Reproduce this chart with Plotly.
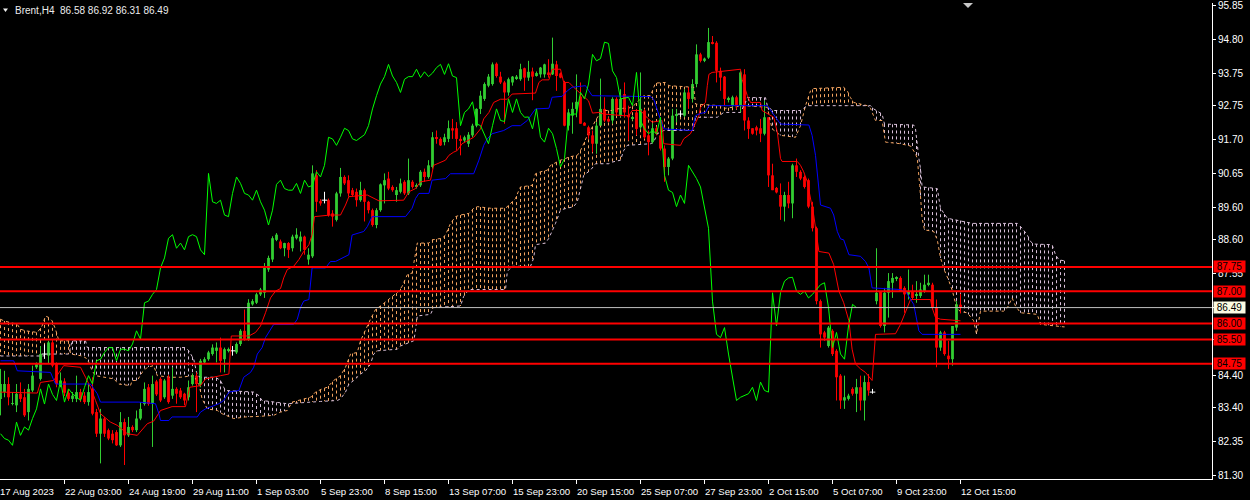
import numpy as np
import plotly.graph_objects as go

# ---------------- data ----------------
symbol = "Brent,H4"

opens = [83.66, 83.87, 84.12, 83.51, 83.46, 83.82, 83.71, 83.25, 83.92, 84.64,
         84.28, 85.05, 85.00, 85.41, 84.74, 84.12, 84.20, 83.85, 83.66, 83.66,
         83.87, 83.76, 83.56, 83.97, 83.25, 82.58, 83.05, 82.69, 82.58, 82.63,
         82.22, 82.94, 82.53, 82.79, 82.69, 83.05, 83.50, 84.02, 83.50, 84.20,
         84.28, 83.71, 84.33, 83.76, 83.97, 83.92, 83.82, 83.71, 84.12, 84.38,
         84.12, 84.79, 84.89, 85.05, 85.15, 85.25, 84.89, 85.15, 85.15, 85.10,
         85.36, 85.77, 85.51, 86.59, 86.64, 86.90, 86.95, 87.67, 87.98, 88.59,
         88.54, 88.33, 88.49, 88.33, 88.64, 88.54, 88.69, 87.98, 88.08, 90.59,
         89.79, 89.82, 89.82, 89.41, 89.21, 90.03, 90.54, 90.44, 90.13, 90.08,
         89.82, 90.13, 89.77, 89.51, 89.05, 89.51, 90.28, 90.49, 90.23, 89.98,
         90.08, 90.39, 90.03, 90.39, 90.23, 90.28, 90.70, 90.54, 90.85, 91.77,
         91.72, 91.62, 91.72, 92.05, 92.05, 91.72, 91.67, 91.57, 91.83, 92.13,
         92.65, 92.96, 93.37, 93.42, 94.05, 93.65, 93.47, 93.16, 93.47, 93.59,
         93.57, 93.91, 93.62, 93.81, 93.67, 93.72, 93.72, 93.78, 93.72, 94.03,
         93.75, 93.47, 92.13, 92.44, 92.65, 93.03, 92.22, 92.08, 91.83, 91.57,
         92.13, 92.65, 92.34, 92.29, 92.96, 92.44, 93.11, 92.46, 92.36, 92.54,
         92.08, 92.60, 91.83, 91.62, 92.05, 91.83, 91.42, 90.85, 91.11, 92.44,
         92.49, 92.44, 93.16, 92.96, 93.42, 94.34, 94.14, 94.24, 94.72, 94.70,
         93.83, 93.65, 92.94, 92.75, 93.01, 92.75, 93.72, 92.29, 92.05, 92.08,
         92.05, 91.88, 92.39, 90.59, 90.20, 89.98, 89.62, 89.98, 89.72, 90.90,
         90.70, 90.54, 90.44, 89.62, 88.95, 86.69, 85.72, 85.30, 85.77, 85.15,
         84.38, 83.61, 83.66, 83.97, 83.82, 84.02, 83.61, 84.18, 83.87, 86.69,
         87.00, 85.92, 86.95, 87.26, 87.39, 87.41, 87.10, 86.90, 87.00, 86.85,
         86.85, 87.00, 87.20, 87.20, 86.49, 85.25, 85.72, 85.00, 84.89, 85.87,
         86.58]
highs = [84.59, 84.53, 84.33, 83.87, 84.12, 84.17, 83.97, 84.12, 84.69, 84.79,
         85.30, 85.35, 85.46, 85.51, 84.79, 84.48, 84.30, 83.95, 83.87, 84.38,
         83.97, 83.87, 84.12, 84.33, 83.35, 83.35, 83.10, 82.74, 82.69, 82.69,
         83.25, 83.05, 83.10, 82.84, 83.30, 83.56, 84.17, 84.12, 84.38, 84.25,
         84.33, 84.28, 84.40, 84.64, 84.02, 84.00, 83.85, 84.23, 84.45, 84.48,
         84.90, 84.95, 85.15, 85.35, 85.41, 85.56, 85.25, 85.25, 85.30, 85.41,
         85.82, 86.43, 86.75, 86.75, 86.95, 87.10, 87.87, 88.10, 88.70, 88.80,
         88.60, 88.50, 88.52, 88.75, 88.95, 88.85, 88.72, 88.33, 90.90, 90.75,
         89.85, 90.08, 89.87, 89.51, 90.08, 90.82, 90.59, 90.59, 90.20, 90.18,
         90.39, 90.18, 89.80, 89.56, 89.57, 90.34, 90.65, 90.70, 90.28, 90.23,
         90.49, 90.44, 91.11, 90.44, 90.34, 90.75, 90.80, 91.06, 91.93, 91.98,
         91.77, 91.88, 92.29, 92.34, 92.24, 91.83, 91.82, 91.93, 92.19, 92.67,
         93.21, 93.47, 93.73, 94.09, 94.09, 93.80, 93.52, 93.62, 93.67, 93.70,
         94.05, 93.93, 94.14, 93.93, 93.81, 93.95, 94.05, 94.19, 94.86, 94.14,
         93.78, 93.52, 92.65, 92.85, 93.72, 93.47, 92.24, 92.13, 91.98, 92.24,
         93.59, 93.01, 92.39, 93.01, 93.01, 93.26, 93.47, 92.75, 92.44, 92.65,
         93.78, 92.65, 91.98, 92.19, 92.10, 92.39, 91.52, 91.16, 92.65, 92.65,
         92.60, 93.26, 93.32, 93.57, 94.65, 94.39, 94.24, 95.16, 94.91, 94.75,
         93.93, 93.67, 93.03, 93.06, 93.06, 93.83, 93.88, 92.39, 92.05, 92.13,
         92.34, 92.90, 92.39, 90.95, 90.23, 90.34, 90.08, 90.39, 90.95, 91.11,
         90.75, 90.59, 90.49, 89.77, 89.00, 86.74, 85.77, 85.92, 85.82, 85.20,
         84.43, 84.38, 83.82, 84.02, 84.28, 84.38, 84.38, 84.43, 83.97, 88.33,
         87.00, 87.10, 87.56, 87.56, 87.46, 87.46, 87.15, 87.67, 87.20, 87.31,
         87.26, 87.51, 87.51, 87.26, 86.74, 85.77, 85.77, 85.46, 85.92, 86.69,
         86.92]
lows = [83.15, 83.71, 83.46, 83.46, 83.25, 83.56, 83.10, 82.99, 83.87, 84.59,
        84.23, 84.90, 84.74, 84.64, 84.02, 84.02, 83.75, 83.60, 83.56, 83.56,
        83.56, 83.50, 83.45, 83.15, 82.48, 81.66, 82.48, 82.38, 82.28, 82.20,
        82.17, 81.61, 82.48, 82.63, 82.63, 83.00, 83.45, 83.45, 82.17, 83.75,
        83.56, 83.66, 83.51, 83.66, 83.51, 83.66, 83.46, 83.61, 84.07, 83.25,
        84.02, 84.74, 84.84, 85.00, 84.79, 84.48, 84.48, 85.10, 85.00, 85.05,
        85.30, 85.46, 85.46, 86.55, 86.60, 86.85, 86.79, 87.60, 87.90, 88.55,
        88.30, 88.08, 88.03, 88.23, 88.60, 88.23, 88.13, 87.82, 88.03, 89.46,
        89.65, 89.72, 89.31, 89.00, 89.16, 89.93, 90.29, 89.93, 89.93, 89.62,
        89.77, 89.16, 89.41, 89.00, 88.95, 89.46, 89.72, 90.13, 90.08, 89.77,
        90.03, 89.98, 89.98, 90.18, 90.18, 90.23, 90.39, 90.49, 90.80, 91.57,
        91.50, 91.52, 91.62, 91.72, 91.36, 91.21, 91.62, 91.47, 91.77, 92.08,
        92.49, 92.90, 93.32, 93.37, 93.62, 93.42, 92.19, 93.06, 93.37, 93.55,
        93.52, 93.21, 93.52, 92.92, 93.65, 93.62, 93.62, 93.62, 93.70, 93.21,
        93.60, 92.11, 91.98, 91.88, 92.39, 92.19, 92.13, 91.72, 91.31, 91.26,
        92.13, 92.24, 92.24, 92.19, 92.44, 92.39, 92.39, 91.67, 92.29, 91.83,
        92.03, 91.72, 91.21, 91.57, 91.83, 91.36, 90.39, 90.59, 91.06, 92.24,
        92.40, 92.39, 92.65, 92.85, 93.32, 94.09, 94.10, 94.20, 94.65, 93.47,
        93.21, 92.75, 92.85, 92.70, 92.65, 92.54, 91.98, 91.72, 91.85, 91.83,
        91.62, 91.83, 90.23, 90.13, 90.03, 89.21, 89.16, 89.57, 89.26, 90.54,
        90.44, 90.18, 89.57, 88.85, 86.59, 85.25, 85.46, 85.25, 84.99, 83.61,
        83.35, 83.35, 83.61, 83.76, 83.25, 83.30, 82.99, 83.76, 83.82, 86.59,
        85.87, 85.72, 86.18, 86.79, 87.31, 87.00, 86.33, 86.74, 86.74, 86.64,
        86.79, 86.95, 87.15, 86.43, 84.64, 85.15, 85.00, 84.59, 84.69, 85.77,
        86.31]
closes = [84.12, 84.12, 83.71, 83.53, 83.82, 83.66, 83.15, 83.97, 84.38, 84.74,
          85.05, 85.05, 85.41, 84.69, 84.12, 84.23, 83.85, 83.66, 83.76, 83.87,
          83.66, 83.56, 83.87, 83.20, 82.58, 83.05, 82.58, 82.43, 82.38, 82.22,
          82.94, 82.53, 82.79, 82.69, 83.05, 83.35, 83.97, 83.50, 84.12, 83.80,
          83.61, 84.23, 83.56, 83.97, 83.82, 83.71, 83.61, 84.02, 84.38, 84.12,
          84.84, 84.89, 85.10, 85.25, 85.25, 84.84, 85.20, 85.20, 85.15, 85.36,
          85.77, 85.51, 86.64, 86.69, 86.90, 87.05, 87.72, 88.03, 88.64, 88.75,
          88.33, 88.49, 88.28, 88.69, 88.75, 88.69, 88.28, 88.13, 90.65, 89.77,
          89.72, 89.82, 89.36, 89.31, 90.03, 90.54, 90.34, 90.03, 89.98, 89.82,
          90.13, 89.77, 89.51, 89.05, 89.51, 90.31, 90.44, 90.18, 90.13, 90.13,
          90.34, 90.03, 90.44, 90.23, 90.28, 90.70, 90.54, 90.90, 91.77, 91.72,
          91.52, 91.77, 92.05, 91.98, 91.72, 91.67, 91.77, 91.85, 92.13, 92.65,
          93.06, 93.42, 93.65, 94.03, 93.67, 93.47, 93.16, 93.57, 93.65, 93.65,
          93.88, 93.62, 93.80, 93.65, 93.76, 93.93, 94.03, 93.72, 94.05, 93.67,
          93.62, 92.13, 92.54, 92.65, 92.87, 92.19, 92.13, 91.83, 91.57, 92.13,
          92.65, 92.29, 92.26, 92.96, 92.54, 92.96, 92.54, 92.39, 92.40, 92.03,
          92.65, 91.77, 91.62, 92.05, 91.88, 91.42, 90.85, 91.11, 92.44, 92.49,
          92.49, 93.16, 92.96, 93.42, 94.34, 94.14, 94.21, 94.72, 94.68, 93.83,
          93.62, 92.96, 92.99, 93.01, 92.75, 93.78, 92.29, 92.03, 91.88, 91.98,
          91.88, 92.39, 90.59, 90.13, 90.06, 89.62, 89.98, 89.72, 90.90, 90.70,
          90.49, 90.23, 89.62, 88.95, 86.69, 85.66, 85.56, 85.87, 85.05, 84.33,
          83.61, 83.71, 83.76, 83.82, 84.02, 83.61, 84.18, 83.92, 83.87, 86.95,
          85.92, 86.95, 87.31, 87.41, 87.43, 87.00, 86.90, 87.00, 86.79, 86.90,
          87.05, 87.20, 87.26, 86.49, 85.25, 85.72, 85.05, 84.89, 85.92, 86.59,
          86.49]

# Ichimoku lines, read as (bar, price) break points
tenkan_x = [0, 9.2, 10, 13.3, 15.8, 20, 21.25, 22.5, 23.75, 25, 27.5, 29.2, 31.7, 34.2, 36.7, 38.3, 40,
            42.9, 46.25, 47.3, 50, 51.25, 55, 57.1, 57.7, 62.1, 63.75, 65, 66.25, 67.5, 68.75, 70, 70.8,
            71.7, 73.3, 74.6, 75.8, 77.1, 77.9, 78.5, 82.5, 85, 86.25, 87.1, 91.7, 93.3, 94.6, 100.8,
            102.1, 103.75, 105, 107.5, 108.3, 111.25, 112.1, 113.3, 114.2, 115.4, 116.7, 118.3, 120,
            120.8, 122.1, 123.3, 125, 126.7, 127.9, 133.75, 134.6, 135.4, 137.1, 137.9, 140, 140.8,
            142.1, 143.3, 147, 148, 149.6, 150.8, 155.8, 157.1, 157.9, 160, 161.7, 162.9, 165.4, 165.8,
            170, 170.8, 172.5, 174.6, 175, 176.25, 176.7, 177.1, 177.9, 185, 185.4, 186.7, 187.5, 190,
            190.4, 193.3, 194.2, 195, 195.4, 199.2, 200, 200.8, 201.7, 203.3, 204.6, 207.1, 208.3,
            209.6, 210.8, 212.1, 212.9, 213.75, 215, 216.25, 217.9, 218.3, 218.75, 223.75, 225, 226.7,
            227.5, 232.5, 232.9, 233.75, 235, 240]
tenkan_y = [83.87, 83.84, 84.17, 84.23, 84.69, 84.64, 84.33, 84.02, 83.61, 83.20, 82.94, 82.84, 82.58,
            82.53, 82.89, 82.97, 83.30, 83.42, 83.42, 84.02, 84.07, 84.28, 84.38, 84.43, 85.61, 85.61,
            85.72, 85.92, 86.33, 86.79, 87.00, 87.08, 87.41, 87.67, 87.77, 87.98, 88.23, 88.44, 88.75,
            89.31, 89.36, 89.36, 89.67, 89.93, 89.98, 89.87, 89.80, 89.82, 90.08, 90.18, 90.39, 90.44,
            90.90, 91.06, 91.21, 91.31, 91.36, 91.57, 91.67, 91.77, 92.03, 92.34, 92.54, 92.85, 92.95,
            92.95, 93.11, 93.14, 93.47, 93.55, 93.55, 93.88, 93.88, 93.47, 93.47, 93.32, 92.90, 92.52,
            92.54, 92.49, 92.44, 92.44, 92.60, 92.60, 92.37, 92.24, 92.29, 91.57, 91.52, 91.72, 91.88,
            92.44, 92.70, 92.85, 93.37, 93.72, 93.78, 93.88, 93.57, 93.06, 92.85, 92.85, 92.60, 92.39,
            91.93, 91.11, 91.02, 91.02, 90.90, 90.70, 90.39, 89.36, 88.23, 88.18, 87.82, 87.00, 86.64,
            86.08, 85.20, 84.74, 84.59, 84.48, 84.23, 85.05, 85.66, 85.68, 85.97, 86.49, 86.74, 86.74,
            86.49, 86.18, 86.13, 86.08]

kijun_x = [0, 3.3, 4.2, 12.5, 13.75, 22.5, 24.2, 25, 34.6, 38.75, 39.6, 40, 42.1, 42.9, 49.2, 50,
           51.25, 54.6, 55.8, 57.1, 59.6, 60.8, 62.5, 63.3, 64.2, 65.4, 66.25, 67.5, 68.3, 73.3, 74.2,
           75, 75.8, 77.1, 77.5, 77.9, 81.25, 82.5, 83.75, 87.1, 87.9, 89.2, 90.8, 91.7, 92.9, 101.25,
           102.9, 103.75, 104.6, 107.1, 107.9, 111.25, 112.5, 118.3, 119.6, 120.8, 121.7, 122.9,
           125.8, 127.9, 130, 131.7, 133.75, 137.1, 137.9, 140.4, 141.7, 142.9, 146.25, 147.1, 147.9,
           162.5, 163.3, 165.8, 172.9, 173.75, 175, 176.25, 177.1, 191.7, 192.9, 195, 202.1, 202.9,
           203.75, 204.6, 205, 207.5, 208.3, 209.2, 210, 210.8, 211.7, 212.1, 215, 216.25, 217.1,
           217.9, 225, 226.25, 228.3, 229.6, 230.4, 240]
kijun_y = [84.84, 84.84, 84.53, 84.48, 84.12, 84.12, 83.82, 83.56, 83.56, 83.51, 83.20, 82.99, 82.99,
           83.10, 83.10, 83.25, 83.35, 83.51, 83.61, 83.87, 83.92, 84.33, 84.48, 84.64, 85.05, 85.25,
           85.56, 85.82, 85.97, 85.97, 86.13, 86.49, 86.69, 86.74, 87.31, 87.72, 87.72, 87.92, 87.92,
           88.13, 88.74, 88.80, 88.85, 89.00, 89.31, 89.31, 89.57, 89.87, 90.03, 90.03, 90.44, 90.49,
           90.64, 90.64, 91.06, 91.52, 91.72, 91.88, 91.98, 92.13, 92.13, 92.29, 92.65, 92.67, 93.01,
           93.04, 93.21, 93.32, 93.37, 93.21, 93.06, 93.03, 92.95, 92.03, 91.98, 92.44, 92.51, 92.54,
           92.75, 92.75, 92.54, 92.18, 92.15, 91.83, 91.21, 90.28, 89.67, 89.57, 89.36, 88.85, 88.62,
           88.59, 88.23, 88.13, 88.08, 87.92, 87.72, 87.10, 87.05, 87.00, 86.59, 85.77, 85.66, 85.66]

span_a_x = [0, 0.8, 4.2, 5, 6.25, 9.2, 10.4, 11.25, 12.1, 12.9, 13.75, 14.6, 17.1, 17.5, 20, 21.25,
            22.1, 22.9, 23.75, 26.7, 28.3, 29.6, 32.5, 32.9, 34.2, 35.4, 36.7, 38.3, 39.2, 42.5, 45,
            48.3, 49.6, 50.4, 51.7, 54.2, 55.4, 58.3, 61.25, 65, 68.3, 70, 71.7, 72.9, 74.6, 75.8,
            77.5, 78.75, 80.4, 81.7, 83.3, 85, 86.25, 87.5, 89.2, 90, 91.25, 92.5, 93.75, 95, 97.5,
            99.6, 100.4, 101.7, 102.9, 103.75, 104.2, 107.1, 107.9, 110.4, 111.25, 112.5, 113.75,
            115, 117.1, 118.3, 119.2, 122.5, 126.25, 127.1, 127.9, 128.75, 129.6, 130, 132.9, 133.3,
            133.75, 135, 136.7, 137.5, 138.3, 140, 141.25, 142.1, 144.2, 145, 145.8, 146.7, 147.9,
            148.75, 150, 151.25, 152.9, 154.2, 155.8, 156.7, 158.3, 160, 160.8, 162.5, 163.75, 166.25,
            167.1, 173.3, 173.75, 180, 181.25, 185.8, 191.7, 192.9, 195, 198.75, 200, 201.25, 202.5,
            203.3, 210.8, 211.7, 212.5, 213.3, 216.7, 217.5, 218.75, 220.4, 221.25, 225, 227.5, 228.75,
            229.2, 229.8, 230.4, 231, 233.3, 234.2, 235, 236, 237, 238, 239, 240, 241.7, 243.3, 244,
            245, 250.8, 251.7, 252.9, 253.75, 255, 259.2, 260, 266]
span_a_y = [86.13, 86.08, 85.97, 85.82, 85.77, 85.72, 85.92, 86.23, 86.18, 86.08, 85.82, 85.46, 85.46,
            85.05, 85.00, 84.94, 84.79, 84.53, 84.38, 84.33, 84.28, 84.12, 84.07, 84.23, 84.23, 84.48,
            84.64, 84.69, 84.38, 84.33, 84.33, 84.38, 84.12, 83.66, 83.35, 83.30, 83.20, 83.05, 83.10,
            83.12, 83.15, 83.25, 83.30, 83.56, 83.61, 83.66, 83.71, 83.87, 83.97, 84.02, 84.23, 84.38,
            84.64, 85.05, 85.10, 85.46, 85.82, 86.13, 86.43, 86.54, 86.79, 87.00, 87.15, 87.51, 87.56,
            88.23, 88.49, 88.49, 88.59, 88.64, 88.74, 89.10, 89.31, 89.36, 89.41, 89.57, 89.62, 89.57,
            89.57, 89.67, 89.77, 89.87, 90.13, 90.23, 90.28, 90.44, 90.64, 90.70, 90.75, 90.90, 90.95,
            91.06, 91.11, 91.16, 91.21, 91.36, 91.57, 91.83, 92.08, 92.29, 92.54, 92.60, 92.60, 92.65,
            92.67, 92.65, 92.75, 92.95, 93.06, 93.06, 93.45, 93.47, 93.37, 93.32, 92.80, 92.75, 92.67,
            92.75, 92.70, 92.03, 91.83, 91.77, 92.13, 92.75, 93.21, 93.28, 93.32, 93.21, 93.00, 92.85,
            92.75, 92.67, 92.29, 92.29, 91.62, 91.57, 91.50, 91.26, 91.11, 90.28, 89.26, 88.90, 88.85,
            88.59, 88.03, 87.64, 87.35, 87.00, 86.50, 86.36, 86.33, 86.08, 85.67, 86.38, 86.38, 86.48,
            86.79, 86.54, 86.33, 86.28, 85.97, 85.89]

span_b_x = [0, 10.8, 11.25, 17.1, 17.9, 21.25, 21.7, 46.25, 47.1, 48.3, 49.2, 50, 53.75, 55, 55.8,
            56.25, 63.3, 64.6, 65.4, 71.7, 80, 84.2, 85, 86.25, 87.1, 88.3, 90, 91.25, 92.5, 93.3,
            94.2, 99.2, 100, 103.3, 103.75, 104.2, 107.5, 108.3, 115, 115.8, 117.1, 126.25, 126.7,
            127.9, 132.5, 133.3, 133.75, 136.25, 137.1, 137.9, 138.75, 140, 141.7, 143.3, 144.2, 145,
            145.8, 147.5, 148.75, 152.1, 152.9, 155, 155.8, 156.7, 160.8, 162.5, 163.3, 164.2, 165.8,
            173.3, 173.75, 179.2, 180.8, 185, 186.25, 186.7, 191.25, 191.7, 192.9, 200, 201.7, 217.5,
            218.3, 220.4, 221, 228.3, 228.75, 229.2, 229.6, 230, 230.4, 234.2, 235, 236.7, 241.25,
            242.9, 254.2, 255.4, 256.7, 257.5, 258.3, 262.9, 263.75, 264.6, 266]
span_b_y = [84.99, 84.99, 85.05, 85.05, 85.46, 85.46, 85.25, 85.25, 85.15, 84.89, 84.38, 84.33, 84.33,
            84.23, 84.02, 83.92, 83.87, 83.76, 83.61, 83.51, 83.58, 83.61, 83.66, 83.87, 84.12, 84.23,
            84.43, 84.53, 84.74, 85.05, 85.15, 85.20, 85.30, 85.46, 85.77, 86.23, 86.28, 86.49, 86.54,
            86.84, 87.05, 87.05, 87.61, 87.77, 87.77, 88.03, 88.44, 88.49, 88.64, 88.85, 89.10, 89.52,
            89.57, 89.62, 89.77, 90.18, 90.59, 90.75, 90.95, 90.95, 91.00, 91.06, 91.36, 91.52, 91.57,
            91.57, 91.62, 91.88, 91.98, 91.98, 92.39, 92.39, 92.54, 92.54, 92.85, 93.00, 93.00, 92.75,
            92.60, 92.60, 92.75, 92.75, 92.65, 92.49, 92.18, 92.15, 92.03, 91.41, 91.11, 90.80, 90.23,
            90.18, 89.57, 89.26, 89.16, 89.10, 89.10, 88.95, 88.74, 88.54, 88.46, 88.44, 88.13, 87.97,
            87.94]

chikou_shift = 26
levels = [87.75, 87.00, 86.00, 85.50, 84.75]
bid = 86.49
price_ticks = [95.85, 94.80, 93.75, 92.75, 91.70, 90.65, 89.60, 88.60, 87.55, 86.50, 85.50,
               84.40, 83.40, 82.35, 81.30]
date_labels = ["17 Aug 2023", "22 Aug 03:00", "24 Aug 19:00", "29 Aug 11:00", "1 Sep 03:00",
               "5 Sep 23:00", "8 Sep 15:00", "13 Sep 07:00", "15 Sep 23:00", "20 Sep 15:00",
               "25 Sep 07:00", "27 Sep 23:00", "2 Oct 15:00", "5 Oct 07:00", "9 Oct 23:00",
               "12 Oct 15:00"]
label_step = 16

# ---------------- figure ----------------
W, H = 1250, 500
ML, MR, MT, MB = 0, 38, 0, 21
PW, PH = W - ML - MR, H - MT - MB
XR = [-0.125, -0.125 + PW / 4.0]
YR = [81.176, 95.933]
FONT = "Liberation Sans"

o = np.array(opens); h = np.array(highs); l = np.array(lows); c = np.array(closes)
n = len(c)
idx = np.arange(n)

UP, DN, DJ = "#32CD32", "#FF0000", "#FFFFFF"
SANDY, THISTLE = "#F4A460", "#D8BFD8"

fig = go.Figure()

# cloud hatch (vertical dotted lines between span A and span B)
cx = np.arange(0, int(max(span_a_x)) + 1)
ca = np.interp(cx, span_a_x, span_a_y)
cb = np.interp(cx, span_b_x, span_b_y)
for col, cond in ((SANDY, ca >= cb), (THISTLE, ca < cb)):
    xs, ys = [], []
    for xi, a, b, m in zip(cx, ca, cb, cond):
        if m:
            xs += [xi, xi, None]
            ys += [max(a, b), min(a, b), None]
    fig.add_trace(go.Scatter(x=xs, y=ys, mode="lines", line=dict(color=col, width=1, dash="3px,3px"),
                             hoverinfo="skip", showlegend=False))

fig.add_trace(go.Scatter(x=span_a_x, y=span_a_y, mode="lines",
                         line=dict(color=SANDY, width=1, dash="3px,3px"), showlegend=False, hoverinfo="skip"))
fig.add_trace(go.Scatter(x=span_b_x, y=span_b_y, mode="lines",
                         line=dict(color=THISTLE, width=1, dash="3px,3px"), showlegend=False, hoverinfo="skip"))

# candles
cols = np.where(c > o, UP, np.where(c < o, DN, DJ))
for col in (UP, DN, DJ):
    xs, ys = [], []
    for i in idx[cols == col]:
        xs += [i, i, None]
        ys += [min(l[i], o[i], c[i]), max(h[i], o[i], c[i]), None]
    fig.add_trace(go.Scatter(x=xs, y=ys, mode="lines", line=dict(color=col, width=1),
                             hoverinfo="skip", showlegend=False))
fig.add_trace(go.Bar(x=idx, y=np.abs(c - o), base=np.minimum(o, c), width=0.7,
                     marker=dict(color=list(cols), line=dict(width=0)), showlegend=False, hoverinfo="skip"))
dj = idx[cols == DJ]
fig.add_trace(go.Scatter(x=dj, y=c[dj], mode="markers",
                         marker=dict(symbol="line-ew", size=4, line=dict(color=DJ, width=1)),
                         showlegend=False, hoverinfo="skip"))

# indicator lines
fig.add_trace(go.Scatter(x=tenkan_x, y=tenkan_y, mode="lines", line=dict(color="#FF0000", width=1),
                         showlegend=False, hoverinfo="skip"))
fig.add_trace(go.Scatter(x=kijun_x, y=kijun_y, mode="lines", line=dict(color="#0000FF", width=1),
                         showlegend=False, hoverinfo="skip"))
fig.add_trace(go.Scatter(x=idx[chikou_shift:] - chikou_shift, y=c[chikou_shift:], mode="lines",
                         line=dict(color="#00FF00", width=1), showlegend=False, hoverinfo="skip"))

shapes = []
for v in levels:
    shapes.append(dict(type="line", xref="paper", x0=0, x1=1, yref="y", y0=v, y1=v,
                       line=dict(color="#FF0000", width=2)))
shapes.append(dict(type="line", xref="paper", x0=0, x1=1, yref="y", y0=bid, y1=bid,
                   line=dict(color="#C0C0C0", width=1)))


def px(xp, yp):
    return xp / PW, 1 - yp / PH


# small header triangle and chart-shift marker
p1, p2, p3 = px(3, 5.5), px(8, 5.5), px(5.5, 9)
shapes.append(dict(type="path", xref="paper", yref="paper",
                   path=f"M {p1[0]},{p1[1]} L {p2[0]},{p2[1]} L {p3[0]},{p3[1]} Z",
                   fillcolor="#F0F0F0", line=dict(width=0)))
p1, p2, p3 = px(963, 0), px(973, 0), px(968, 5)
shapes.append(dict(type="path", xref="paper", yref="paper",
                   path=f"M {p1[0]},{p1[1]} L {p2[0]},{p2[1]} L {p3[0]},{p3[1]} Z",
                   fillcolor="#C8C8C8", line=dict(width=0)))

ann = []
ann.append(dict(xref="paper", yref="paper", x=0, y=1, xanchor="left", yanchor="top", xshift=13,
                yshift=0, showarrow=False,
                text=f"{symbol}  {opens[-1]:.2f} {highs[-1]:.2f} {lows[-1]:.2f} {closes[-1]:.2f}",
                font=dict(family=FONT, size=10, color="#ECECEC")))
for k, t in enumerate(date_labels):
    xv = XR[0] if k == 0 else k * label_step
    ann.append(dict(xref="x", yref="paper", x=xv, y=0, xanchor="left", yanchor="top",
                    yshift=-5, xshift=-2, showarrow=False, text=t,
                    font=dict(family=FONT, size=9.6, color="#FFFFFF")))
for v in levels:
    ann.append(dict(xref="paper", yref="y", x=1, y=v, xanchor="left", yanchor="middle", xshift=1,
                    showarrow=False, text=f"{v:.2f}", bgcolor="#FF0000", borderpad=0, width=31,
                    height=11, font=dict(family=FONT, size=10, color="#000000")))
ann.append(dict(xref="paper", yref="y", x=1, y=bid, xanchor="left", yanchor="middle", xshift=1,
                showarrow=False, text=f"{bid:.2f}", bgcolor="#FBFBE3", borderpad=0, width=31,
                height=11, font=dict(family=FONT, size=10, color="#000000")))

fig.update_layout(
    width=W, height=H, margin=dict(l=ML, r=MR, t=MT, b=MB, pad=0),
    paper_bgcolor="#000000", plot_bgcolor="#000000",
    showlegend=False, barmode="overlay", shapes=shapes, annotations=ann,
    xaxis=dict(range=XR, showgrid=False, zeroline=False, showline=True, linecolor="#FFFFFF",
               linewidth=1, ticks="outside", ticklen=4, tickcolor="#FFFFFF",
               tickvals=list(range(label_step, n, label_step)), showticklabels=False,
               fixedrange=True),
    yaxis=dict(range=YR, side="right", showgrid=False, zeroline=False, showline=True,
               linecolor="#FFFFFF", linewidth=1, ticks="outside", ticklen=3, tickcolor="#FFFFFF",
               tickvals=price_ticks, ticktext=[f"{v:.2f}" for v in price_ticks],
               ticklabeloverflow="allow",
               tickfont=dict(family=FONT, size=10, color="#FFFFFF"), fixedrange=True),
)

fig.write_html("out.html", config={"displayModeBar": False},
               post_script="document.body.style.margin='0';document.body.style.padding='0';"
                           "document.documentElement.style.overflow='hidden';")
